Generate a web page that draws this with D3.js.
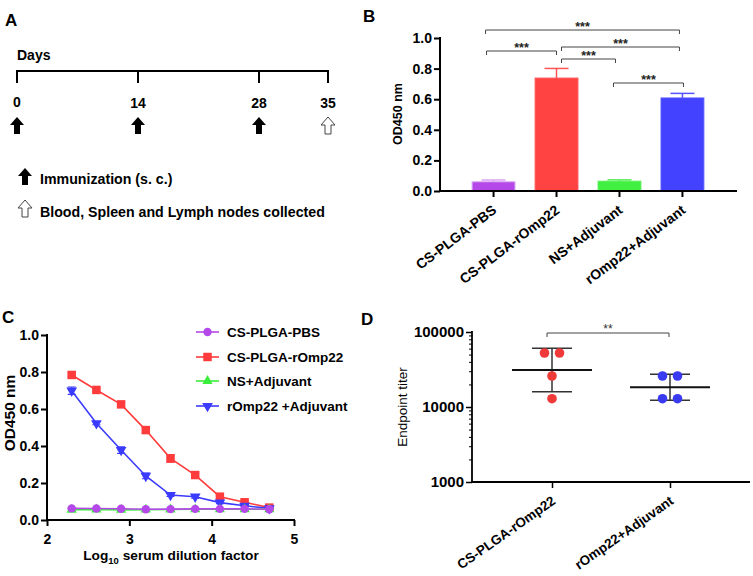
<!DOCTYPE html>
<html><head><meta charset="utf-8">
<script src="https://cdn.jsdelivr.net/npm/d3@7"></script>
<style>body{margin:0;background:#fff} svg{display:block}</style>
</head><body><svg id="c" width="753" height="576"></svg>
<script>
// ---------- Panel A data ----------
const timelineDays = [0, 14, 28, 35];
const immunizationDays = [0, 14, 28];
const collectionDays = [35];
const legendA = ["Immunization (s. c.)", "Blood, Spleen and Lymph nodes collected"];

// ---------- Panel B data ----------
const groupsB = ["CS-PLGA-PBS", "CS-PLGA-rOmp22", "NS+Adjuvant", "rOmp22+Adjuvant"];
const meansB = [0.060, 0.738, 0.064, 0.608];
const errB = [0.012, 0.063, 0.009, 0.030];
const colorsB = ["#B548E8", "#FF4242", "#42F042", "#4242FF"];
const errColorsB = ["#D9A3F2", "#FF5555", "#55EE55", "#5555FF"];
const sigPairsB = [[0, 3], [0, 1], [1, 3], [1, 2], [2, 3]];
const sigLabelsB = ["***", "***", "***", "***", "***"];
const yTicksB = [0, 0.2, 0.4, 0.6, 0.8, 1.0];

// ---------- Panel C data ----------
const dilutionLog = [2.3, 2.6, 2.9, 3.2, 3.5, 3.8, 4.1, 4.4, 4.7];
const seriesNamesC = ["CS-PLGA-PBS", "CS-PLGA-rOmp22", "NS+Adjuvant", "rOmp22 +Adjuvant"];
const pbsC = [0.063, 0.062, 0.061, 0.058, 0.059, 0.060, 0.060, 0.060, 0.058];
const romp22C = [0.784, 0.703, 0.625, 0.486, 0.333, 0.243, 0.126, 0.096, 0.067];
const nsAdjC = [0.055, 0.057, 0.055, 0.056, 0.057, 0.058, 0.058, 0.058, 0.058];
const rompAdjC = [0.699, 0.523, 0.378, 0.238, 0.135, 0.126, 0.094, 0.077, 0.063];
const pbsErrC = [0.004, 0.003, 0.003, 0.003, 0.003, 0.003, 0.003, 0.003, 0.003];
const romp22ErrC = [0.010, 0.010, 0.012, 0.016, 0.020, 0.012, 0.010, 0.008, 0.006];
const nsAdjErrC = [0.003, 0.003, 0.004, 0.003, 0.003, 0.003, 0.003, 0.003, 0.003];
const rompAdjErrC = [0.020, 0.008, 0.018, 0.015, 0.008, 0.008, 0.006, 0.005, 0.004];
const colorsC = ["#B548E8", "#FF3B3B", "#3BEE3B", "#3B3BFF"];
const markersC = ["circle", "square", "triangleUp", "triangleDown"];
const xTicksC = [2, 3, 4, 5];
const yTicksC = [0, 0.2, 0.4, 0.6, 0.8, 1.0];

// ---------- Panel D data ----------
const groupsD = ["CS-PLGA-rOmp22", "rOmp22+Adjuvant"];
const titersRomp22 = [52500, 52500, 25900, 12900];
const titersRompAdj = [25900, 25900, 12900, 12900];
const gmeanD = [31100, 18300];
const sdLowD = [16000, 12300];
const sdHighD = [60500, 27300];
const colorsD = ["#F03A3A", "#3A3AF0"];
const yTicksD = [1000, 10000, 100000];
const sigLabelD = "**";

// ---------- Helpers ----------
const FONT = '"Liberation Sans", Arial, Helvetica, sans-serif';
const svg = d3.select("#c");
svg.append("rect").attr("width", 753).attr("height", 576).attr("fill", "#fff");

function txt(g, x, y, s, size, opts = {}) {
  return g.append("text").attr("x", x).attr("y", y).text(s)
    .attr("font-family", FONT).attr("font-size", size)
    .attr("font-weight", opts.weight || "bold")
    .attr("text-anchor", opts.anchor || "start")
    .attr("fill", opts.fill || "#000");
}
function styleAxis(g, fs, sw) {
  g.selectAll("text").attr("font-size", fs).attr("font-weight", "bold")
    .attr("fill", "#000").attr("font-family", FONT);
  g.selectAll("line").attr("stroke", "#000").attr("stroke-width", sw);
  g.select(".domain").attr("stroke", "#000").attr("stroke-width", sw);
}
function arrowPath(cx, top) {
  const w = 14, h = 17, hh = 8, sw = 6;
  return `M${cx},${top} L${cx + w / 2},${top + hh} L${cx + sw / 2},${top + hh} L${cx + sw / 2},${top + h} ` +
         `L${cx - sw / 2},${top + h} L${cx - sw / 2},${top + hh} L${cx - w / 2},${top + hh} Z`;
}

// ================= Panel A =================
{
  const g = svg.append("g");
  const x = d3.scaleLinear().domain(timelineDays).range([17, 138, 259, 328]);
  txt(g, 5, 26, "A", 17);
  txt(g, 17, 60, "Days", 14);
  g.append("line").attr("x1", x(0) - 1).attr("x2", x(35) + 1).attr("y1", 71).attr("y2", 71)
    .attr("stroke", "#000").attr("stroke-width", 2);
  g.selectAll(".tk").data(timelineDays).enter().append("line")
    .attr("x1", d => x(d)).attr("x2", d => x(d)).attr("y1", 71).attr("y2", 83)
    .attr("stroke", "#000").attr("stroke-width", 2);
  g.selectAll(".lb").data(timelineDays).enter().append("text")
    .attr("x", d => x(d)).attr("y", d => d === 0 ? 107 : 108).attr("text-anchor", "middle")
    .attr("font-family", FONT).attr("font-size", 14).attr("font-weight", "bold").text(d => d);
  g.selectAll(".ar").data(immunizationDays).enter().append("path")
    .attr("d", d => arrowPath(x(d), 117)).attr("fill", "#000");
  g.selectAll(".ar2").data(collectionDays).enter().append("path")
    .attr("d", d => arrowPath(x(d), 117)).attr("fill", "#fff").attr("stroke", "#444").attr("stroke-width", 1);
  g.append("path").attr("d", arrowPath(25, 168)).attr("fill", "#000");
  g.append("path").attr("d", arrowPath(25, 200)).attr("fill", "#fff").attr("stroke", "#444").attr("stroke-width", 1);
  txt(g, 40, 184, legendA[0], 14.2);
  txt(g, 40, 217, legendA[1], 14.2);
}

// ================= Panel B =================
{
  const g = svg.append("g");
  txt(g, 363, 22, "B", 17);
  const x = d3.scaleBand().domain(groupsB).range([452, 724]).padding(0.32);
  const y = d3.scaleLinear().domain([0, 1]).range([191, 38]);
  const cx = i => x(groupsB[i]) + x.bandwidth() / 2;

  g.selectAll(".bar").data(groupsB).enter().append("rect")
    .attr("x", d => x(d)).attr("width", x.bandwidth())
    .attr("y", (d, i) => y(meansB[i])).attr("height", (d, i) => y(0) - y(meansB[i]))
    .attr("fill", (d, i) => colorsB[i]).attr("stroke", (d, i) => errColorsB[i]).attr("stroke-width", 1);
  groupsB.forEach((d, i) => {
    const c = cx(i), top = y(meansB[i] + errB[i]);
    g.append("line").attr("x1", c).attr("x2", c).attr("y1", y(meansB[i])).attr("y2", top)
      .attr("stroke", errColorsB[i]).attr("stroke-width", 1.5);
    g.append("line").attr("x1", c - 12).attr("x2", c + 12).attr("y1", top).attr("y2", top)
      .attr("stroke", errColorsB[i]).attr("stroke-width", 1.5);
  });

  const ya = g.append("g").attr("transform", "translate(440,0)")
    .call(d3.axisLeft(y).tickValues(yTicksB).tickFormat(d3.format(".1f")).tickSize(6).tickPadding(2).tickSizeOuter(0));
  styleAxis(ya, 14, 2);
  ya.select(".domain").remove();
  g.append("line").attr("x1", 440).attr("x2", 440).attr("y1", y(1) - 1).attr("y2", y(0) + 1)
    .attr("stroke", "#000").attr("stroke-width", 2);
  const xa = g.append("g").attr("transform", "translate(0,191)")
    .call(d3.axisBottom(x).tickSize(6).tickSizeOuter(0));
  styleAxis(xa, 14, 2);
  xa.select(".domain").remove();
  xa.selectAll("text").attr("text-anchor", "end").attr("dy", null).attr("y", 0)
    .attr("transform", "translate(4,21) rotate(-37)");
  g.append("line").attr("x1", 439).attr("x2", 737).attr("y1", 191).attr("y2", 191)
    .attr("stroke", "#000").attr("stroke-width", 2);

  txt(g, 0, 0, "OD450 nm", 12.5).attr("text-anchor", "middle")
    .attr("transform", "translate(402,114) rotate(-90)");

  const bracketLayout = [
    { y: 30, dl: -8, dr: -3 }, { y: 51, dl: -7, dr: 0 }, { y: 47, dl: 5, dr: -3 },
    { y: 59, dl: 5, dr: -4 }, { y: 83, dl: -6, dr: 1 }
  ];
  sigPairsB.forEach((p, k) => {
    const L = bracketLayout[k];
    const x1 = cx(p[0]) + L.dl, x2 = cx(p[1]) + L.dr;
    g.append("path").attr("d", `M${x1},${L.y + 4} V${L.y} H${x2} V${L.y + 4}`)
      .attr("fill", "none").attr("stroke", "#444").attr("stroke-width", 1);
    txt(g, (x1 + x2) / 2, L.y + 1, sigLabelsB[k], 12.5, { anchor: "middle", fill: "#222" });
  });
}

// ================= Panel C =================
{
  const g = svg.append("g");
  txt(g, 2, 323, "C", 17);
  const x = d3.scaleLinear().domain([2, 5]).range([47, 294]);
  const y = d3.scaleLinear().domain([0, 1]).range([520, 335]);

  const ya = g.append("g").attr("transform", "translate(47,0)")
    .call(d3.axisLeft(y).tickValues(yTicksC).tickFormat(d3.format(".1f")).tickSize(6).tickPadding(2).tickSizeOuter(0));
  styleAxis(ya, 14, 2);
  ya.select(".domain").remove();
  const xa = g.append("g").attr("transform", "translate(0,520)")
    .call(d3.axisBottom(x).tickValues(xTicksC).tickFormat(d3.format("d")).tickSize(6).tickPadding(8).tickSizeOuter(0));
  styleAxis(xa, 14, 2);
  xa.select(".domain").remove();
  g.append("line").attr("x1", 47).attr("x2", 47).attr("y1", y(1) - 1).attr("y2", 521)
    .attr("stroke", "#000").attr("stroke-width", 2);
  g.append("line").attr("x1", 46).attr("x2", 295).attr("y1", 520).attr("y2", 520)
    .attr("stroke", "#000").attr("stroke-width", 2);

  txt(g, 0, 0, "OD450 nm", 15.5).attr("text-anchor", "middle")
    .attr("transform", "translate(15,413) rotate(-90)");
  const xt = txt(g, 171, 560, "Log", 13.7, { anchor: "middle" });
  xt.append("tspan").attr("font-size", 9.5).attr("dy", 4).text("10");
  xt.append("tspan").attr("dy", -4).text(" serum dilution factor");

  const symType = {
    circle: d3.symbolCircle, square: d3.symbolSquare,
    triangleUp: d3.symbolTriangle, triangleDown: d3.symbolTriangle
  };
  const symSize = { circle: 55, square: 72, triangleUp: 45, triangleDown: 50 };
  const mk = (gg, type, color, px, py) => {
    gg.append("path").attr("d", d3.symbol().type(symType[type]).size(symSize[type])())
      .attr("transform", `translate(${px},${py})` + (type === "triangleDown" ? " rotate(180)" : ""))
      .attr("fill", color);
  };

  const allVals = [pbsC, romp22C, nsAdjC, rompAdjC];
  const allErr = [pbsErrC, romp22ErrC, nsAdjErrC, rompAdjErrC];
  const order = [1, 3, 2, 0];
  const line = d3.line().x(d => x(d[0])).y(d => y(d[1]));
  order.forEach(s => {
    const pts = dilutionLog.map((d, i) => [d, allVals[s][i]]);
    g.append("path").attr("d", line(pts)).attr("fill", "none")
      .attr("stroke", colorsC[s]).attr("stroke-width", 1.6);
    pts.forEach((p, i) => {
      const e = allErr[s][i], px = x(p[0]);
      const y1 = y(p[1] - e), y2 = y(p[1] + e);
      g.append("path").attr("d", `M${px - 4},${y1} H${px + 4} M${px},${y1} V${y2} M${px - 4},${y2} H${px + 4}`)
        .attr("stroke", colorsC[s]).attr("stroke-width", 1.2).attr("fill", "none");
      mk(g, markersC[s], colorsC[s], px, y(p[1]));
    });
  });

  const legY = [332, 357, 381, 406];
  seriesNamesC.forEach((n, i) => {
    g.append("line").attr("x1", 196).attr("x2", 219).attr("y1", legY[i]).attr("y2", legY[i])
      .attr("stroke", colorsC[i]).attr("stroke-width", 1.6);
    mk(g, markersC[i], colorsC[i], 207.5, legY[i]);
    txt(g, 227, legY[i] + 5, n, 13.5);
  });
}

// ================= Panel D =================
{
  const g = svg.append("g");
  txt(g, 361, 325, "D", 17);
  const x = d3.scalePoint().domain(groupsD).range([552, 670]);
  const y = d3.scaleLog().domain([1000, 100000]).range([482, 332]);

  const minor = [];
  [1000, 10000].forEach(b => { for (let m = 2; m <= 9; m++) minor.push(b * m); });
  const ym = g.append("g").attr("transform", "translate(472,0)")
    .call(d3.axisLeft(y).tickValues(minor).tickFormat("").tickSize(3).tickSizeOuter(0));
  styleAxis(ym, 12, 1);
  ym.select(".domain").remove();
  const ya = g.append("g").attr("transform", "translate(472,0)")
    .call(d3.axisLeft(y).tickValues(yTicksD).tickFormat(d3.format("d")).tickSize(6).tickPadding(2).tickSizeOuter(0));
  styleAxis(ya, 15, 1.5);
  ya.select(".domain").remove();
  g.append("line").attr("x1", 472).attr("x2", 472).attr("y1", 331).attr("y2", 483)
    .attr("stroke", "#000").attr("stroke-width", 1.8);
  const xa = g.append("g").attr("transform", "translate(0,482)")
    .call(d3.axisBottom(x).tickSize(6).tickSizeOuter(0));
  styleAxis(xa, 13.5, 1.5);
  xa.select(".domain").remove();
  xa.selectAll("text").attr("text-anchor", "end").attr("dy", null).attr("y", 0)
    .attr("transform", "translate(4,21) rotate(-35)");
  g.append("line").attr("x1", 471).attr("x2", 750).attr("y1", 482).attr("y2", 482)
    .attr("stroke", "#000").attr("stroke-width", 1.8);

  txt(g, 0, 0, "Endpoint titer", 13.5, { weight: "normal" }).attr("text-anchor", "middle")
    .attr("transform", "translate(407,407) rotate(-90)");

  const sets = [titersRomp22, titersRompAdj];
  sets.forEach((vals, gi) => {
    const c = x(groupsD[gi]);
    g.append("line").attr("x1", c).attr("x2", c).attr("y1", y(sdHighD[gi])).attr("y2", y(sdLowD[gi]))
      .attr("stroke", "#333").attr("stroke-width", 1.5);
    [sdHighD[gi], sdLowD[gi]].forEach(v => {
      g.append("line").attr("x1", c - 20).attr("x2", c + 20).attr("y1", y(v)).attr("y2", y(v))
        .attr("stroke", "#333").attr("stroke-width", 1.5);
    });
    const counts = d3.rollup(vals, v => v.length, d => d);
    const seen = new Map();
    vals.forEach(v => {
      const n = counts.get(v), k = seen.get(v) || 0;
      seen.set(v, k + 1);
      const off = (k - (n - 1) / 2) * 15;
      g.append("circle").attr("cx", c + off).attr("cy", y(v)).attr("r", 4.8).attr("fill", colorsD[gi]);
    });
    g.append("line").attr("x1", c - 40).attr("x2", c + 40).attr("y1", y(gmeanD[gi])).attr("y2", y(gmeanD[gi]))
      .attr("stroke", "#111").attr("stroke-width", 2);
  });

  const x1 = x(groupsD[0]) - 5, x2 = x(groupsD[1]) - 1, by = 333;
  g.append("path").attr("d", `M${x1},${by + 4} V${by} H${x2} V${by + 4}`)
    .attr("fill", "none").attr("stroke", "#444").attr("stroke-width", 1);
  txt(g, (x1 + x2) / 2, by, sigLabelD, 12, { anchor: "middle", fill: "#333", weight: "normal" });
}
</script>
</body></html>
